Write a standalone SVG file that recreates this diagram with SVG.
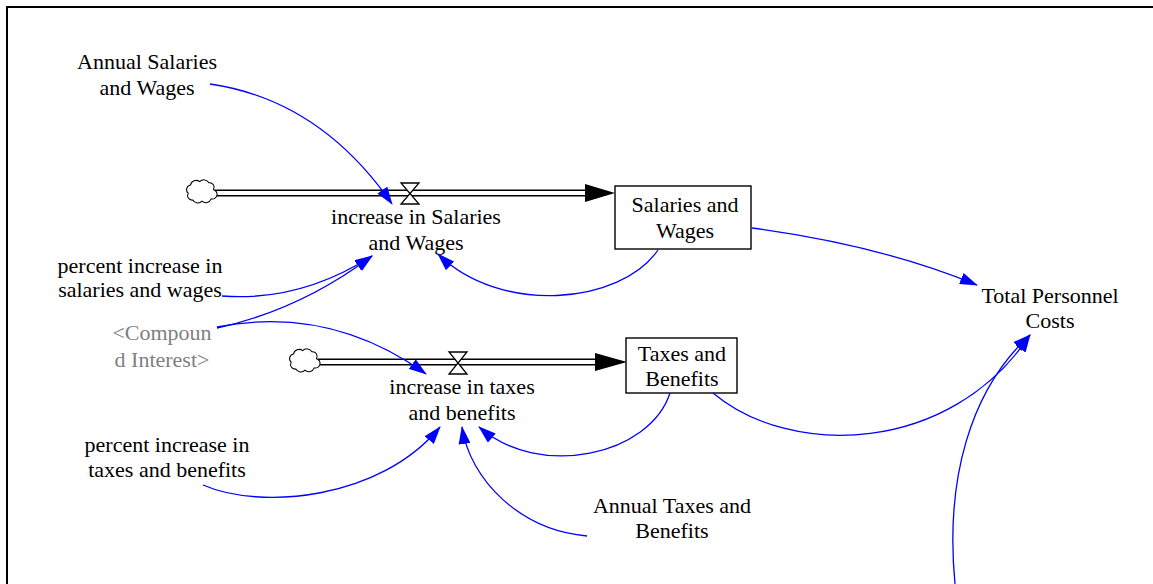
<svg xmlns="http://www.w3.org/2000/svg" width="1153" height="584" viewBox="0 0 1153 584">
<style>
text{font-family:"Liberation Serif","Times New Roman",serif;font-size:22px;fill:#000;text-anchor:middle}
.shadow{fill:#808080}
.stock{fill:#fff;stroke:#000;stroke-width:1.4}
.pipeO{stroke:#000;stroke-width:7;fill:none}
.pipeI{stroke:#fff;stroke-width:4.2;fill:none}
.valve{fill:#fff;stroke:#000;stroke-width:1.3;stroke-linejoin:miter}
.cloud{fill:#fff;stroke:#000;stroke-width:0.9}
.link{fill:none;stroke:#0000ff;stroke-width:1.3;marker-end:url(#ah)}
</style>
<defs>
<marker id="ah" markerUnits="userSpaceOnUse" markerWidth="18" markerHeight="12" refX="17" refY="6" orient="auto">
<path d="M0,0 L18,6 L0,12 Z" fill="#0000ff"/>
</marker>
<path id="cloudShape" class="cloud" d="M-10,-6 a5,5 0 0,1 8,-3 a5,5 0 0,1 8,1 a4,4 0 0,1 4,6 a4,4 0 0,1 -2,8 a5,5 0 0,1 -8,2 a5,5 0 0,1 -8,-1 a4,4 0 0,1 -4,-6 a4,4 0 0,1 2,-7 z"/>
</defs>
<rect width="1153" height="584" fill="#fff"/>
<path d="M7,584 L7,7 L1153,7" fill="none" stroke="#000" stroke-width="2"/>

<g id="flow-salaries">
<path class="pipeO" d="M215,193 L588,193"/>
<path class="pipeI" d="M213,193 L590,193"/>
<use href="#cloudShape" transform="translate(202,192) scale(1.15)"/>
<path d="M585,184 L615,193 L585,202 Z" fill="#000"/>
<path class="valve" d="M401,183 L419,183 L410,193.5 L419,204 L401,204 L410,193.5 Z"/>
<text x="416" y="224">increase in Salaries</text>
<text x="416" y="250">and Wages</text>
</g>

<g id="flow-taxes">
<path class="pipeO" d="M318,362 L598,362"/>
<path class="pipeI" d="M316,362 L600,362"/>
<use href="#cloudShape" transform="translate(305,361) scale(1.15)"/>
<path d="M595,353 L627,362 L595,371 Z" fill="#000"/>
<path class="valve" d="M449,352 L467,352 L458,363 L467,374 L449,374 L458,363 Z"/>
<text x="462" y="394">increase in taxes</text>
<text x="462" y="420">and benefits</text>
</g>

<g id="stock-salaries">
<rect class="stock" x="615" y="186" width="136" height="63"/>
<text x="685" y="212">Salaries and</text>
<text x="685" y="238">Wages</text>
</g>

<g id="stock-taxes">
<rect class="stock" x="626" y="338" width="111" height="55"/>
<text x="682" y="361">Taxes and</text>
<text x="682" y="386">Benefits</text>
</g>

<g id="annual-salaries">
<text x="147" y="69">Annual Salaries</text>
<text x="147" y="95">and Wages</text>
</g>

<g id="percent-salaries">
<text x="140" y="273">percent increase in</text>
<text x="140" y="297">salaries and wages</text>
</g>

<g id="compound-interest">
<text class="shadow" x="162" y="340">&lt;Compoun</text>
<text class="shadow" x="162" y="367">d Interest&gt;</text>
</g>

<g id="percent-taxes">
<text x="167" y="452">percent increase in</text>
<text x="167" y="477">taxes and benefits</text>
</g>

<g id="annual-taxes">
<text x="672" y="513">Annual Taxes and</text>
<text x="672" y="538">Benefits</text>
</g>

<g id="total-personnel">
<text x="1050" y="303">Total Personnel</text>
<text x="1050" y="328">Costs</text>
</g>

<g id="connectors">
<path class="link" d="M210,84 Q320,100 392,204"/>
<path class="link" d="M222,296 Q300,302 372,256"/>
<path class="link" d="M217,328 Q300,310 372,256"/>
<path class="link" d="M217,327 Q330,305 426,374"/>
<path class="link" d="M658,250 C620,305 500,315 438,254"/>
<path class="link" d="M752,228 Q880,245 977,285"/>
<path class="link" d="M670,393 C650,455 540,480 479,427"/>
<path class="link" d="M713,393 C790,458 950,455 1030,335"/>
<path class="link" d="M955,584 C945,480 970,390 1030,335"/>
<path class="link" d="M203,485 C260,510 380,500 440,427"/>
<path class="link" d="M587,536 C520,530 470,480 462,427"/>
</g>
</svg>
